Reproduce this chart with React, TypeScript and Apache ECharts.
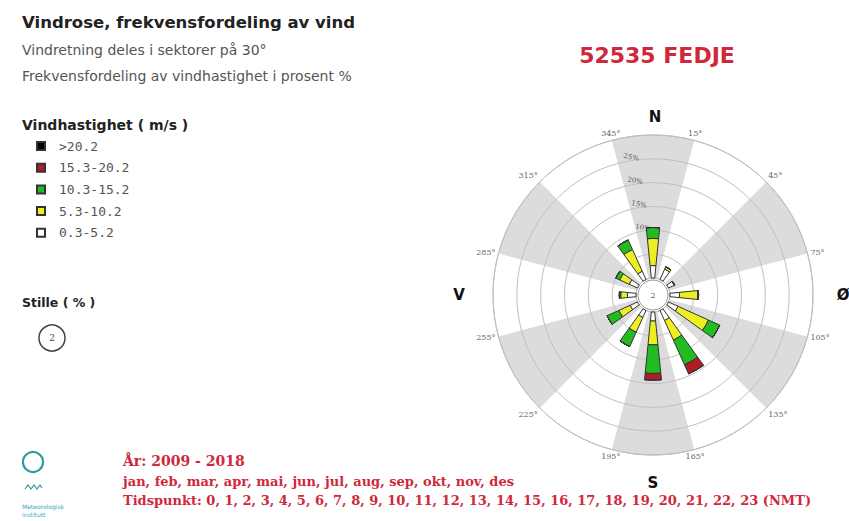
import React, { useEffect, useRef } from 'react';
import * as echarts from 'echarts';

// Wind directions (bar centres) and the sector-boundary labels
const directions = ['0°', '30°', '60°', '90°', '120°', '150°', '180°', '210°', '240°', '270°', '300°', '330°'];
const sectorLabels = ['15°', '45°', '75°', '105°', '135°', '165°', '195°', '225°', '255°', '285°', '315°', '345°'];

// Speed classes (m/s), innermost first
const speedClasses = ['0.3-5.2', '5.3-10.2', '10.3-15.2', '15.3-20.2', '>20.2'];
const legendOrder = ['>20.2', '15.3-20.2', '10.3-15.2', '5.3-10.2', '0.3-5.2'];

// Frequency (%) per direction for each speed class
const freq_0_3_5_2 = [2.6, 2.4, 1.3, 2.0, 2.2, 2.3, 1.9, 1.6, 1.7, 1.8, 1.9, 1.9];
const freq_5_3_10_2 = [5.7, 0.5, 0.1, 3.8, 7.0, 4.5, 5.0, 3.4, 2.6, 1.4, 2.2, 5.0];
const freq_10_3_15_2 = [2.3, 0, 0, 0.2, 2.6, 5.7, 6.0, 3.3, 2.7, 0.3, 0.9, 2.2];
const freq_15_3_20_2 = [0, 0, 0, 0, 0, 2.1, 1.4, 0, 0, 0, 0, 0];
const freq_over_20_2 = [0, 0, 0, 0, 0, 0, 0, 0, 0, 0, 0, 0];

const calmPercent = 2;
const radiusLabelTicks = [10, 15, 20, 25];

const stationName = '52535 FEDJE';
const periodLines = [
  'År: 2009 - 2018',
  'jan, feb, mar, apr, mai, jun, jul, aug, sep, okt, nov, des',
  'Tidspunkt: 0, 1, 2, 3, 4, 5, 6, 7, 8, 9, 10, 11, 12, 13, 14, 15, 16, 17, 18, 19, 20, 21, 22, 23 (NMT)',
];

const classColors = ['#ffffff', '#eeee22', '#22bb22', '#b01c28', '#000000'];

export default function App() {
  const ref = useRef<HTMLDivElement>(null);

  useEffect(() => {
    const chart = echarts.init(ref.current as HTMLDivElement, null, { renderer: 'svg' });
    const cx = 653;
    const cy = 295;
    const radii = [17, 160];
    const seriesData = [freq_0_3_5_2, freq_5_3_10_2, freq_10_3_15_2, freq_15_3_20_2, freq_over_20_2];
    const series = seriesData.map((data, i) => ({
      type: 'bar',
      name: speedClasses[i],
      coordinateSystem: 'polar',
      polarIndex: 0,
      stack: 'rose',
      data,
      barWidth: '38%',
      itemStyle: { color: classColors[i], borderColor: '#333', borderWidth: 1 },
      z: 5,
    }));

    const sans = '"DejaVu Sans"';
    const serif = '"DejaVu Serif"';
    const mono = '"DejaVu Sans Mono"';
    const red = '#d0283a';
    const teal = '#2f9a9f';

    chart.setOption({
      animation: false,
      backgroundColor: '#ffffff',
      title: {
        text: stationName,
        left: 652,
        top: 39,
        textAlign: 'center',
        textStyle: { fontFamily: sans, fontSize: 22, fontWeight: 'bold', color: red },
      },
      legend: {
        orient: 'vertical',
        left: 31,
        top: 134,
        data: legendOrder,
        icon: 'rect',
        itemWidth: 8,
        itemHeight: 8,
        itemGap: 7.7,
        selectedMode: false,
        textStyle: { fontFamily: mono, fontSize: 13, lineHeight: 14, color: '#555', padding: [0, 0, 0, 9] },
      },
      polar: [
        { center: [cx, cy], radius: radii },
        { center: [cx, cy], radius: radii },
        { center: [cx, cy], radius: radii },
      ],
      angleAxis: [
        {
          polarIndex: 0,
          type: 'category',
          data: directions,
          startAngle: 105,
          clockwise: true,
          axisLine: { show: true, lineStyle: { color: '#b8b8b8', width: 1 } },
          axisTick: { show: false },
          axisLabel: { show: false },
          splitLine: { show: false },
          splitArea: { show: true, areaStyle: { color: ['#dcdcdc', '#ffffff'] } },
          z: 1,
        },
        {
          polarIndex: 1,
          type: 'category',
          data: sectorLabels,
          startAngle: 90,
          clockwise: true,
          axisLine: { show: false },
          axisTick: { show: false },
          splitLine: { show: false },
          splitArea: { show: false },
          axisLabel: { margin: 3, fontSize: 8, fontFamily: serif, color: '#666' },
        },
        {
          polarIndex: 2,
          type: 'value',
          min: 0,
          max: 360,
          startAngle: 99.5,
          show: false,
        },
      ],
      radiusAxis: [
        {
          polarIndex: 0,
          type: 'value',
          min: 0,
          max: 30,
          interval: 5,
          axisLine: { show: false },
          axisTick: { show: false },
          axisLabel: { show: false },
          splitLine: { show: true, lineStyle: { color: '#c0c0c0', width: 1 } },
          z: 3,
        },
        { polarIndex: 1, type: 'value', show: false },
        {
          polarIndex: 2,
          type: 'value',
          min: 0,
          max: 30,
          interval: 5,
          axisLine: { show: false },
          axisTick: { show: false },
          splitLine: { show: false },
          axisLabel: {
            margin: 0,
            rotate: -10,
            align: 'center',
            verticalAlign: 'bottom',
            fontSize: 7,
            fontFamily: serif,
            color: '#555',
            formatter: (v: number) => (radiusLabelTicks.includes(v) ? v + '%' : ''),
          },
          z: 4,
        },
      ],
      series,
      graphic: [
        { type: 'text', x: 22, y: 22, style: { text: 'Vindrose, frekvensfordeling av vind', font: `bold 16.5px ${sans}`, fill: '#222', textVerticalAlign: 'middle' } },
        { type: 'text', x: 22, y: 50, style: { text: 'Vindretning deles i sektorer på 30°', font: `14px ${sans}`, fill: '#555', textVerticalAlign: 'middle' } },
        { type: 'text', x: 22, y: 76, style: { text: 'Frekvensfordeling av vindhastighet i prosent %', font: `14px ${sans}`, fill: '#555', textVerticalAlign: 'middle' } },
        { type: 'text', x: 22, y: 125, style: { text: 'Vindhastighet ( m/s )', font: `bold 14px ${sans}`, fill: '#222', textVerticalAlign: 'middle' } },
        { type: 'text', x: 22, y: 302, style: { text: 'Stille ( % )', font: `bold 12.5px ${sans}`, fill: '#222', textVerticalAlign: 'middle' } },
        { type: 'circle', shape: { cx: 52, cy: 338, r: 13 }, style: { fill: '#fff', stroke: '#444', lineWidth: 1.5 } },
        { type: 'text', x: 52, y: 338, style: { text: String(calmPercent), font: `9px ${serif}`, fill: '#444', textAlign: 'center', textVerticalAlign: 'middle' } },
        // centre calm circle
        { type: 'circle', z: 10, shape: { cx, cy, r: 15 }, style: { fill: '#fff', stroke: '#999', lineWidth: 1 } },
        { type: 'text', z: 11, x: cx, y: cy, style: { text: String(calmPercent), font: `8px ${serif}`, fill: '#555', textAlign: 'center', textVerticalAlign: 'middle' } },
        // compass letters
        { type: 'text', x: 655, y: 117, style: { text: 'N', font: `bold 15px ${sans}`, fill: '#111', textAlign: 'center', textVerticalAlign: 'middle' } },
        { type: 'text', x: 843, y: 295, style: { text: 'Ø', font: `bold 15px ${sans}`, fill: '#111', textAlign: 'center', textVerticalAlign: 'middle' } },
        { type: 'text', x: 653, y: 483, style: { text: 'S', font: `bold 15px ${sans}`, fill: '#111', textAlign: 'center', textVerticalAlign: 'middle' } },
        { type: 'text', x: 459, y: 295, style: { text: 'V', font: `bold 15px ${sans}`, fill: '#111', textAlign: 'center', textVerticalAlign: 'middle' } },
        // logo
        { type: 'circle', shape: { cx: 33, cy: 462, r: 10 }, style: { fill: 'none', stroke: teal, lineWidth: 2.2 } },
        { type: 'polyline', shape: { points: [[25, 489], [28, 485], [31, 489], [34, 485], [37, 489], [40, 485], [42, 488]] }, style: { fill: 'none', stroke: teal, lineWidth: 1.2 } },
        { type: 'text', x: 22, y: 506, style: { text: 'Meteorologisk', font: `6px ${sans}`, fill: '#3aa6c0', textVerticalAlign: 'middle' } },
        { type: 'text', x: 22, y: 514, style: { text: 'institutt', font: `6px ${sans}`, fill: '#3aa6c0', textVerticalAlign: 'middle' } },
        // period
        { type: 'text', x: 123, y: 461, style: { text: periodLines[0], font: `bold 14px ${serif}`, fill: red, textVerticalAlign: 'middle' } },
        { type: 'text', x: 123, y: 481, style: { text: periodLines[1], font: `bold 13px ${serif}`, fill: red, textVerticalAlign: 'middle' } },
        { type: 'text', x: 123, y: 500, style: { text: periodLines[2], font: `bold 13px ${serif}`, fill: red, textVerticalAlign: 'middle' } },
      ],
    });

    return () => {
      chart.dispose();
    };
  }, []);

  return (
    <div
      ref={ref}
      style={{ position: 'fixed', left: 0, top: 0, width: 849, height: 521, background: '#fff' }}
    />
  );
}
